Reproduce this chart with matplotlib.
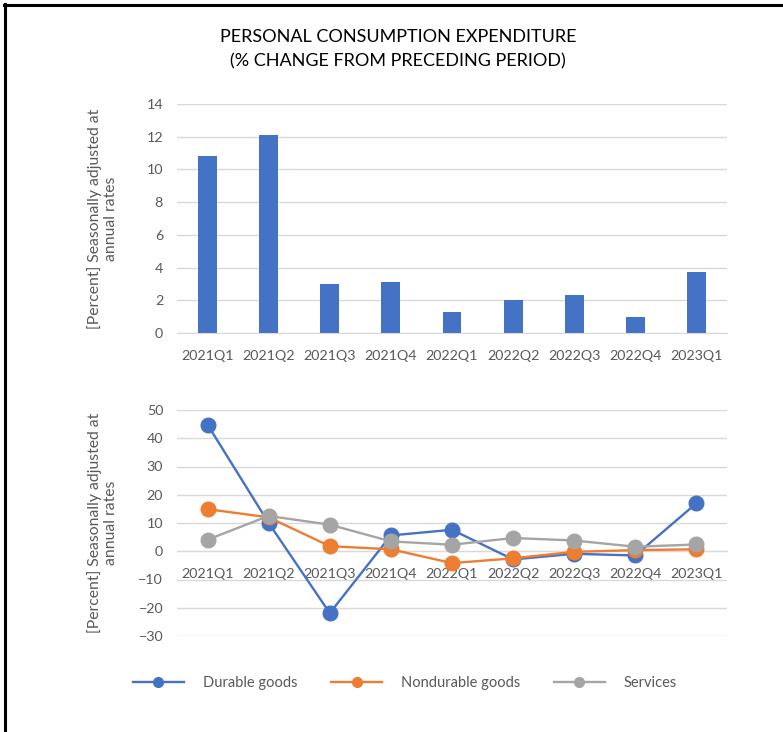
import matplotlib
matplotlib.use("Agg")
import matplotlib.pyplot as plt
from matplotlib.lines import Line2D

plt.rcParams['font.family'] = ['Lato', 'DejaVu Sans']

quarters = ["2021Q1", "2021Q2", "2021Q3", "2021Q4", "2022Q1",
            "2022Q2", "2022Q3", "2022Q4", "2023Q1"]
pce_total = [10.8, 12.1, 3.0, 3.1, 1.3, 2.0, 2.3, 1.0, 3.7]
durable = [44.8, 10.0, -21.9, 5.6, 7.6, -2.9, -0.9, -1.5, 17.0]
nondurable = [14.9, 12.0, 1.8, 0.7, -4.2, -2.5, -0.2, 0.4, 0.7]
services = [4.1, 12.5, 9.4, 3.5, 2.3, 4.7, 3.8, 1.6, 2.4]

W, H = 783, 732
grid_c = "#d9d9d9"
text_c = "#595959"
ylab = "[Percent] Seasonally adjusted at\nannual rates"

fig = plt.figure(figsize=(W / 100, H / 100), dpi=100)

def px_box(x0, y0, x1, y1):
    # pixel box (top-left origin) -> figure fraction rect
    return [x0 / W, 1 - y1 / H, (x1 - x0) / W, (y1 - y0) / H]

def style_axis(ax):
    for s in ["top", "right", "left"]:
        ax.spines[s].set_visible(False)
    ax.spines["bottom"].set_color(grid_c)
    ax.grid(axis="y", color=grid_c, linewidth=1)
    ax.set_axisbelow(True)
    ax.tick_params(axis="both", length=0, colors=text_c, labelsize=10.3)
    ax.tick_params(axis="y", pad=10)
    ax.tick_params(axis="x", pad=12)
    ax.set_ylabel(ylab, color=text_c, fontsize=11.3, linespacing=1.2)
    ax.yaxis.set_label_coords(-0.107, 0.5)

x = list(range(len(quarters)))

# top: bar chart
ax1 = fig.add_axes(px_box(177, 104, 727, 333))
ax1.bar(x, pce_total, width=0.31, color="#4472c4", zorder=2)
ax1.set_xlim(-0.5, len(quarters) - 0.5)
ax1.set_ylim(0, 14)
ax1.set_yticks(range(0, 15, 2))
ax1.set_xticks(x)
ax1.set_xticklabels(quarters)
style_axis(ax1)

# bottom: line chart
ax2 = fig.add_axes(px_box(177, 410, 727, 636))
series = [("Durable goods", durable, "#4472c4"),
          ("Nondurable goods", nondurable, "#ed7d31"),
          ("Services", services, "#a5a5a5")]
for name, vals, col in series:
    ax2.plot(x, vals, color=col, linewidth=1.7, marker="o", markersize=10.5,
             label=name, zorder=3)
ax2.set_xlim(-0.5, len(quarters) - 0.5)
ax2.set_ylim(-30, 50)
ax2.set_yticks(range(-30, 51, 10))
ax2.set_xticks(x)
ax2.set_xticklabels(quarters)
style_axis(ax2)
ax2.spines["bottom"].set_position(("data", 0))

handles = [Line2D([0], [0], color=c, linewidth=1.7, marker="o", markersize=7)
           for _, _, c in series]
fig.legend(handles, [s[0] for s in series], loc="center",
           bbox_to_anchor=(405 / W, 1 - 683 / H), ncol=3, frameon=False,
           fontsize=10.5, labelcolor=text_c, handlelength=3.5, handletextpad=1.3,
           columnspacing=2.3)

fig.text(398 / W, 1 - 49 / H,
         "PERSONAL CONSUMPTION EXPENDITURE\n(% CHANGE FROM PRECEDING PERIOD)",
         ha="center", va="center", fontsize=13, linespacing=1.6)

# frame lines (top and left)
fig.add_artist(Line2D([4 / W, 1], [1 - 5 / H, 1 - 5 / H], color="black",
                      linewidth=2.2, transform=fig.transFigure))
fig.add_artist(Line2D([5 / W, 5 / W], [0, 1 - 4 / H], color="black",
                      linewidth=2.2, transform=fig.transFigure))

fig.savefig("out.png", dpi=100)
